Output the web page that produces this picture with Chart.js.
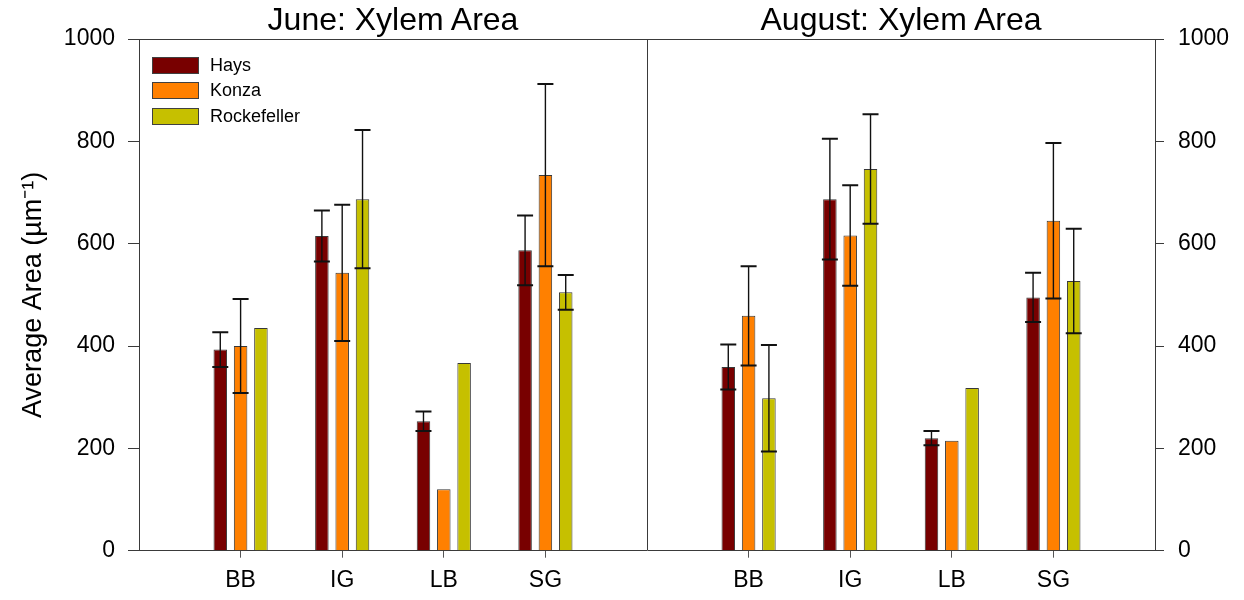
<!DOCTYPE html>
<html>
<head>
<meta charset="utf-8">
<script src="https://cdn.jsdelivr.net/npm/chart.js@4.4.1/dist/chart.umd.min.js"></script>
<style>
  html, body { margin: 0; padding: 0; background: #ffffff; }
  #wrap { position: relative; width: 1244px; height: 600px; font-family: "Liberation Sans", Arial, sans-serif; color: #000; }
  #chart { position: absolute; left: 0; top: 0; }
  .panel-title { position: absolute; top: 0; width: 508px; text-align: center; font-size: 32px; line-height: 38px; }
  #legend { position: absolute; left: 152px; top: 57px; }
  .item { position: relative; height: 25.3px; }
  .swatch { position: absolute; left: 0; top: 0; width: 47px; height: 17px; box-sizing: border-box; border: 1px solid #404040; }
  .label { position: absolute; left: 58px; top: -1px; font-size: 18px; line-height: 19px; white-space: nowrap; }
</style>
</head>
<body>
<div id="wrap">
  <canvas id="chart" width="1244" height="600"></canvas>
  <div class="panel-title" style="left:139px">June: Xylem Area</div>
  <div class="panel-title" style="left:647px">August: Xylem Area</div>
  <div id="legend"></div>
</div>
<script>
// Sites along the x axis (same four in each month)
const categories = ['BB', 'IG', 'LB', 'SG'];
const seriesNames = ['Hays', 'Konza', 'Rockefeller'];
const seriesColors = ['#780000', '#FF8000', '#C6C000'];

// June means and error half-widths
const juneHays = [393, 615, 253, 587];
const juneHaysErr = [34, 50, 19, 68];
const juneKonza = [400, 543, 120, 734];
const juneKonzaErr = [92, 133, null, 178];
const juneRockefeller = [435, 687, 367, 505];
const juneRockefellerErr = [null, 135, null, 34];

// August means and error half-widths
const augHays = [359, 687, 220, 495];
const augHaysErr = [44, 118, 14, 48];
const augKonza = [459, 616, 215, 645];
const augKonzaErr = [97, 98, null, 152];
const augRockefeller = [298, 746, 318, 527];
const augRockefellerErr = [104, 107, null, 102];

const yTicks = [0, 200, 400, 600, 800, 1000];

// Both months share one category axis: blank slots mark the panel edges.
const labels = ['', ...categories, '', ...categories, ''];
const joinMonths = (a, b) => [null, ...a, null, ...b, null];

const seriesValues = [
  joinMonths(juneHays, augHays),
  joinMonths(juneKonza, augKonza),
  joinMonths(juneRockefeller, augRockefeller)
];
const seriesErrors = [
  joinMonths(juneHaysErr, augHaysErr),
  joinMonths(juneKonzaErr, augKonzaErr),
  joinMonths(juneRockefellerErr, augRockefellerErr)
];

const lineColor = '#3a3a3a';
const fontFamily = '"Liberation Sans", Arial, sans-serif';

// Whiskers with caps, drawn on top of the bars
const errorBars = {
  id: 'errorBars',
  afterDatasetsDraw(chart) {
    const ctx = chart.ctx;
    const yScale = chart.scales.y;
    chart.data.datasets.forEach((ds, i) => {
      const meta = chart.getDatasetMeta(i);
      meta.data.forEach((bar, j) => {
        const v = ds.data[j];
        const e = ds.errors[j];
        if (v == null || e == null) return;
        const x = bar.x;
        const yTop = yScale.getPixelForValue(v + e);
        const yBot = yScale.getPixelForValue(v - e);
        ctx.save();
        ctx.strokeStyle = '#111111';
        ctx.lineWidth = 1.4;
        ctx.beginPath();
        ctx.moveTo(x, yTop);
        ctx.lineTo(x, yBot);
        ctx.stroke();
        ctx.lineWidth = 2;
        ctx.beginPath();
        ctx.moveTo(x - 8, yTop);
        ctx.lineTo(x + 8, yTop);
        ctx.moveTo(x - 8, yBot);
        ctx.lineTo(x + 8, yBot);
        ctx.stroke();
        ctx.restore();
      });
    });
  }
};

const datasets = seriesNames.map((name, i) => ({
  label: name,
  data: seriesValues[i],
  errors: seriesErrors[i],
  backgroundColor: seriesColors[i],
  borderColor: '#383838',
  borderWidth: 1,
  categoryPercentage: 0.6,
  barPercentage: 0.665
}));

// Legend block in the upper left of the June panel
const legendEl = document.getElementById('legend');
seriesNames.forEach((name, i) => {
  const item = document.createElement('div');
  item.className = 'item';
  const sw = document.createElement('div');
  sw.className = 'swatch';
  sw.style.background = seriesColors[i];
  const lb = document.createElement('div');
  lb.className = 'label';
  lb.textContent = name;
  item.appendChild(sw);
  item.appendChild(lb);
  legendEl.appendChild(item);
});

const yAxisCommon = {
  type: 'linear',
  min: 0,
  max: 1000,
  afterBuildTicks: (scale) => { scale.ticks = yTicks.map(v => ({ value: v })); },
  border: { display: true, color: lineColor, width: 1 },
};
const yTickOptions = (pad) => ({
  padding: pad,
  color: '#000',
  font: { family: fontFamily, size: 23 },
  callback: (v) => String(v)
});

new Chart(document.getElementById('chart'), {
  type: 'bar',
  data: { labels, datasets },
  options: {
    responsive: false,
    devicePixelRatio: 1,
    animation: false,
    layout: { padding: { top: 39, left: 0, right: 0, bottom: 0 } },
    plugins: {
      legend: { display: false },
      tooltip: { enabled: false },
      title: { display: false }
    },
    scales: {
      x: {
        type: 'category',
        offset: false,
        afterFit: (scale) => { scale.height = 49.3; },
        grid: {
          display: true,
          offset: false,
          drawOnChartArea: true,
          color: (c) => (c.index === 5 ? lineColor : 'rgba(0,0,0,0)'),
          tickColor: (c) => (labels[c.index] ? '#555555' : 'rgba(0,0,0,0)'),
          tickLength: 7,
          lineWidth: 1
        },
        border: { display: true, color: lineColor, width: 1 },
        ticks: {
          autoSkip: false,
          maxRotation: 0,
          padding: 9,
          color: '#000',
          font: { family: fontFamily, size: 23 }
        }
      },
      y: {
        ...yAxisCommon,
        position: 'left',
        afterFit: (scale) => { scale.width = 139; },
        grid: {
          drawOnChartArea: true,
          color: (c) => (c.tick && c.tick.value === 1000 ? lineColor : 'rgba(0,0,0,0)'),
          tickColor: lineColor,
          tickLength: 11,
          lineWidth: 1
        },
        ticks: yTickOptions(13),
        title: {
          display: true,
          text: 'Average Area (µm⁻¹)',
          color: '#000',
          padding: { top: 17, bottom: 0 },
          font: { family: fontFamily, size: 27 }
        }
      },
      y2: {
        ...yAxisCommon,
        position: 'right',
        afterFit: (scale) => { scale.width = 89; },
        grid: {
          drawOnChartArea: false,
          tickColor: lineColor,
          tickLength: 9,
          lineWidth: 1
        },
        ticks: yTickOptions(14)
      }
    }
  },
  plugins: [errorBars]
});
</script>
</body>
</html>
